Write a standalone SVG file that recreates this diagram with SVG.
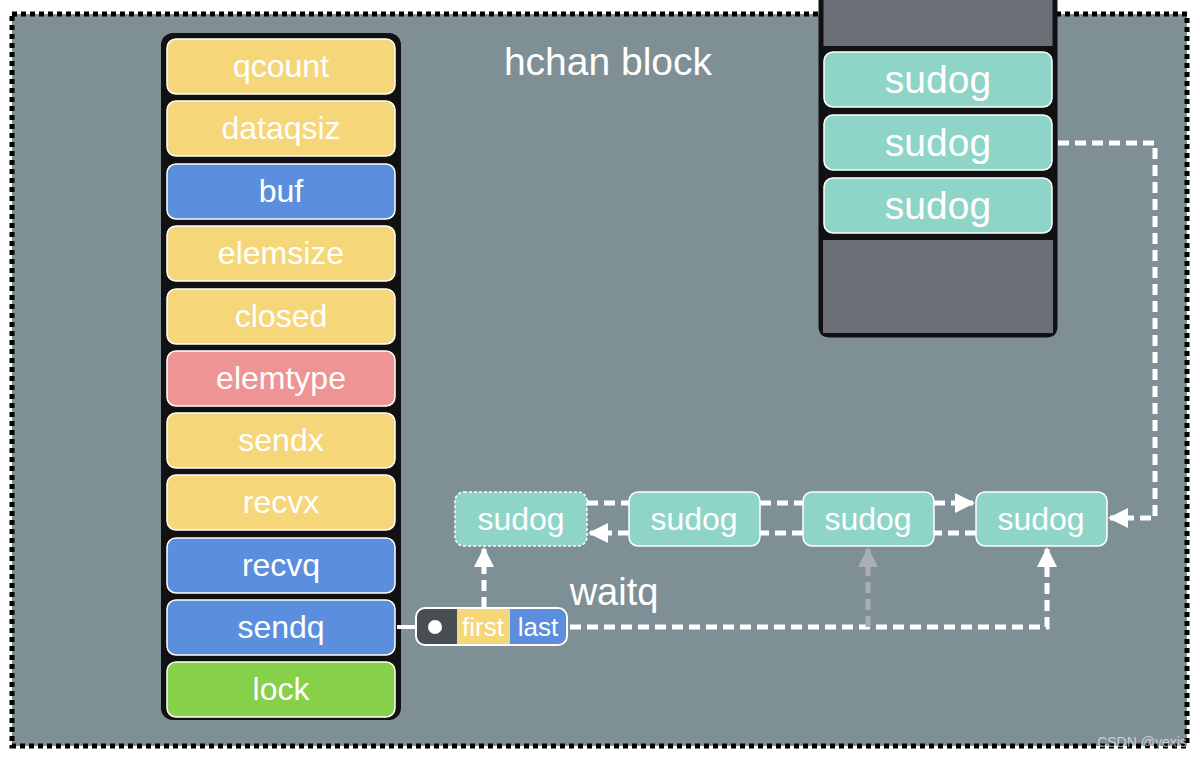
<svg xmlns="http://www.w3.org/2000/svg" width="1200" height="759" viewBox="0 0 1200 759">
<style>
.t{font-family:"Liberation Sans",Arial,sans-serif;fill:#fff;text-anchor:middle;font-size:32px}
.big{font-size:39px}
.sm{font-size:26px}
.f{stroke:#fff;stroke-width:1.5}
.y{fill:#f5d679}.b{fill:#5b8fdd}.r{fill:#ee9494}.g{fill:#86d04a}.s{fill:#8ed5c8}
.dash{fill:none;stroke:#fff;stroke-width:5;stroke-dasharray:11 6}
</style>
<defs>
<marker id="ah" viewBox="0 0 10 10" refX="9" refY="5" markerWidth="4" markerHeight="4" orient="auto" markerUnits="strokeWidth">
<path d="M0,0 L10,5 L0,10 z" fill="#fff"/>
</marker>
<marker id="ahg" viewBox="0 0 10 10" refX="9" refY="5" markerWidth="4" markerHeight="4" orient="auto" markerUnits="strokeWidth">
<path d="M0,0 L10,5 L0,10 z" fill="#a9b0b5"/>
</marker>
</defs>
<rect width="1200" height="759" fill="#fff"/>
<rect id="frame" x="12" y="14" width="1175" height="732" fill="#7f8f96" stroke="#000" stroke-width="5" stroke-dasharray="5 4"/>
<text class="t big" x="608" y="75">hchan block</text>

<g id="hchan">
<rect x="161" y="33" width="240" height="687" rx="12" fill="#111"/>
<g id="qcount"><rect class="y f" x="167" y="39" width="228" height="55" rx="9"/><text class="t" x="281" y="77">qcount</text></g>
<g id="dataqsiz"><rect class="y f" x="167" y="101" width="228" height="55" rx="9"/><text class="t" x="281" y="139">dataqsiz</text></g>
<g id="buf"><rect class="b f" x="167" y="164" width="228" height="55" rx="9"/><text class="t" x="281" y="202">buf</text></g>
<g id="elemsize"><rect class="y f" x="167" y="226" width="228" height="55" rx="9"/><text class="t" x="281" y="264">elemsize</text></g>
<g id="closed"><rect class="y f" x="167" y="289" width="228" height="55" rx="9"/><text class="t" x="281" y="327">closed</text></g>
<g id="elemtype"><rect class="r f" x="167" y="351" width="228" height="55" rx="9"/><text class="t" x="281" y="389">elemtype</text></g>
<g id="sendx"><rect class="y f" x="167" y="413" width="228" height="55" rx="9"/><text class="t" x="281" y="451">sendx</text></g>
<g id="recvx"><rect class="y f" x="167" y="475" width="228" height="55" rx="9"/><text class="t" x="281" y="513">recvx</text></g>
<g id="recvq"><rect class="b f" x="167" y="538" width="228" height="55" rx="9"/><text class="t" x="281" y="576">recvq</text></g>
<g id="sendq"><rect class="b f" x="167" y="600" width="228" height="55" rx="9"/><text class="t" x="281" y="638">sendq</text></g>
<g id="lock"><rect class="g f" x="167" y="662" width="228" height="55" rx="9"/><text class="t" x="281" y="700">lock</text></g>
</g>

<g id="stack">
<path d="M821,-5 V326 Q821,335 830,335 H1046 Q1055,335 1055,326 V-5 Z" fill="#6b7078" stroke="#111" stroke-width="5"/>
<rect x="823" y="46" width="230" height="195" fill="#111"/>
<g id="stack-sudog1"><rect class="s f" x="824" y="52" width="228" height="55" rx="9"/><text class="t big" x="938" y="93">sudog</text></g>
<g id="stack-sudog2"><rect class="s f" x="824" y="115" width="228" height="55" rx="9"/><text class="t big" x="938" y="156">sudog</text></g>
<g id="stack-sudog3"><rect class="s f" x="824" y="178" width="228" height="55" rx="9"/><text class="t big" x="938" y="219">sudog</text></g>
<rect x="823" y="240" width="230" height="93" fill="#6b7078"/>
</g>

<g id="connectors">
<line x1="397" y1="627" x2="435" y2="627" stroke="#fff" stroke-width="4"/>
<path class="dash" d="M1058,143 H1155 V518 H1110" marker-end="url(#ah)"/>
<path class="dash" d="M587,503 H629"/>
<path class="dash" d="M760,503 H803"/>
<path class="dash" d="M934,503 H973" marker-end="url(#ah)"/>
<path class="dash" d="M629,533 H590" marker-end="url(#ah)"/>
<path class="dash" d="M803,533 H760"/>
<path class="dash" d="M976,533 H934"/>
<path class="dash" d="M484,608 V549" marker-end="url(#ah)"/>
<path class="dash" d="M570,627 H1047 V549" marker-end="url(#ah)"/>
<path d="M868,627 V549" fill="none" stroke="#a9b0b5" stroke-width="5" stroke-dasharray="11 6" marker-end="url(#ahg)"/>
</g>

<g id="waitq">
<rect x="416" y="608" width="151" height="37" rx="9" fill="#474f55"/>
<rect x="457" y="609" width="53" height="35" fill="#f5d679"/>
<path d="M510,609 H557 Q566,609 566,618 V635 Q566,644 557,644 H510 Z" fill="#5b8fdd"/>
<rect x="416" y="608" width="151" height="37" rx="9" fill="none" stroke="#fff" stroke-width="2"/>
<circle cx="435" cy="627" r="7" fill="#fff"/>
<text class="t sm" x="483" y="636">first</text>
<text class="t sm" x="538" y="636">last</text>
<text class="t" x="614" y="605" style="font-size:38px">waitq</text>
</g>

<g id="sudog1"><rect class="s" x="455" y="492" width="132" height="54" rx="9" stroke="#fff" stroke-width="1.5" stroke-dasharray="3 2"/><text class="t" x="521" y="530">sudog</text></g>
<g id="sudog2"><rect class="s f" x="629" y="492" width="131" height="54" rx="9"/><text class="t" x="694" y="530">sudog</text></g>
<g id="sudog3"><rect class="s f" x="803" y="492" width="131" height="54" rx="9"/><text class="t" x="868" y="530">sudog</text></g>
<g id="sudog4"><rect class="s f" x="976" y="492" width="131" height="54" rx="9"/><text class="t" x="1041" y="530">sudog</text></g>

<text x="1142" y="747" font-family="Liberation Sans,Arial,sans-serif" font-size="14" fill="#fff" fill-opacity="0.6" text-anchor="middle">CSDN @yexis</text>
</svg>
